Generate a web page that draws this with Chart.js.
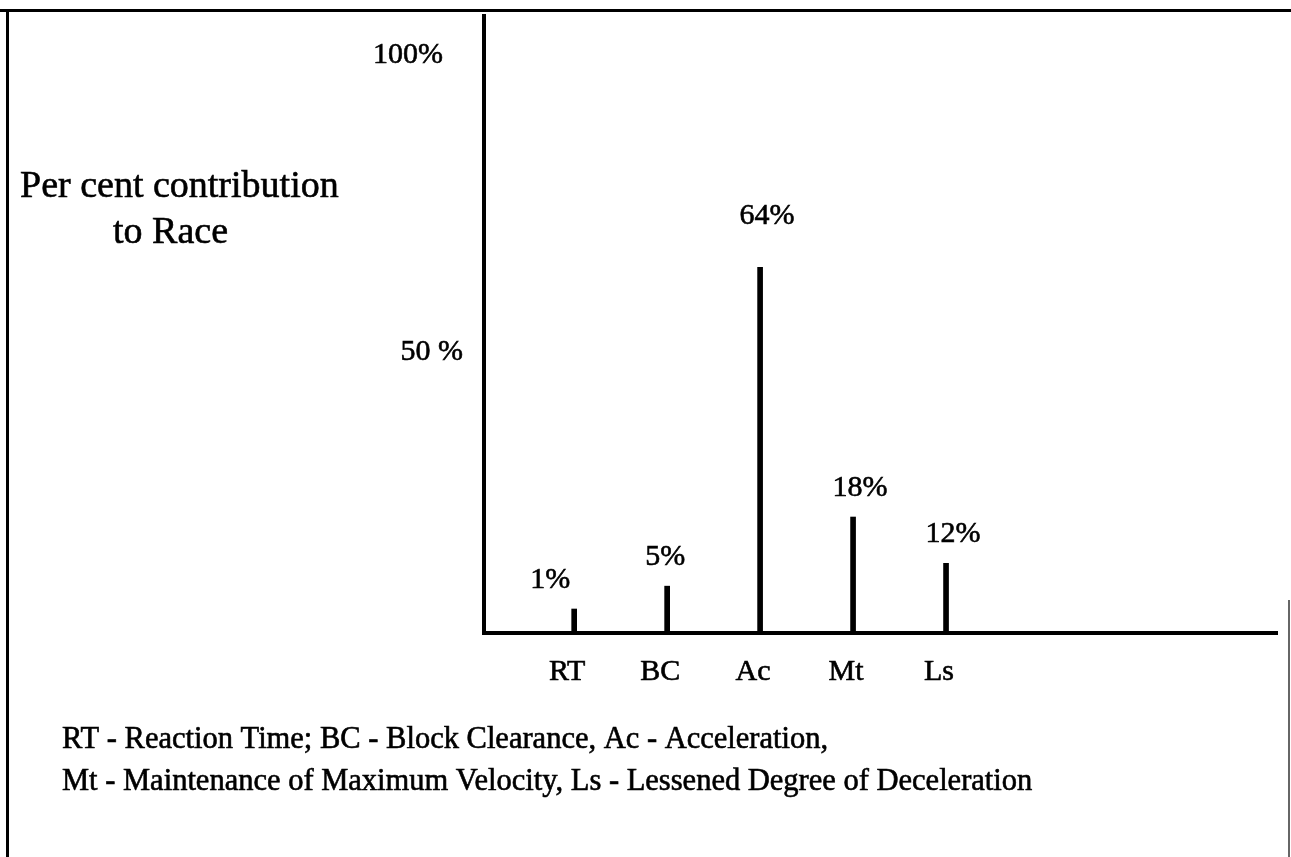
<!DOCTYPE html>
<html>
<head>
<meta charset="utf-8">
<title>Per cent contribution to Race</title>
<script src="https://cdn.jsdelivr.net/npm/chart.js@4.4.1/dist/chart.umd.min.js"></script>
<style>
  html, body { margin: 0; padding: 0; background: #fff; }
  canvas { display: block; }
</style>
</head>
<body>
<canvas id="raceChart" width="1291" height="857"></canvas>
<script>
const categories = ["RT", "BC", "Ac", "Mt", "Ls"];
// bar lengths as they are drawn
const barLengths = [4.2, 8.2, 64, 20.3, 12.2];
// figures printed above the bars
const percentLabels = ["1%", "5%", "64%", "18%", "12%"];
const yTickValues = [50, 100];
const yTickLabels = ["50 %", "100%"];
const yTitleLines = ["Per cent contribution", "to Race"];
const footnoteLines = [
  "RT - Reaction Time; BC - Block Clearance, Ac - Acceleration,",
  "Mt - Maintenance of Maximum Velocity, Ls - Lessened Degree of Deceleration",
];

const SERIF = "'Liberation Serif', 'Times New Roman', serif";
Chart.defaults.font.family = SERIF;
Chart.defaults.color = "#000";

// scanned text looks a bit heavy, so fill and lightly stroke
function inkText(ctx, text, x, y) {
  ctx.fillText(text, x, y);
  ctx.strokeText(text, x, y);
}

// everything that is plain text on the scanned page
const pageText = {
  id: "pageText",
  afterDraw(chart) {
    const ctx = chart.ctx;
    const yScale = chart.scales.y;
    const area = chart.chartArea;
    ctx.save();
    ctx.fillStyle = "#000";
    ctx.strokeStyle = "#000";
    ctx.lineWidth = 0.6;

    // frame of the page
    ctx.fillRect(0, 9, chart.width, 3);
    ctx.fillRect(6, 9, 3, chart.height - 9);
    ctx.fillStyle = "#666";
    ctx.fillRect(1288, 600, 2, chart.height - 600);
    ctx.fillStyle = "#000";

    // y tick labels
    ctx.font = "30px " + SERIF;
    ctx.textAlign = "right";
    ctx.textBaseline = "alphabetic";
    const tickNudge = [{ dx: -21, dy: 13 }, { dx: -41, dy: 1 }];
    yTickValues.forEach((v, i) => {
      const y = yScale.getPixelForValue(v);
      inkText(ctx, yTickLabels[i], area.left + tickNudge[i].dx, y + tickNudge[i].dy);
    });

    // values above bars
    ctx.textAlign = "center";
    const labelNudge = [{ dx: -24, dy: 21 }, { dx: -2, dy: 21 }, { dx: 7, dy: 43 }, { dx: 7, dy: 21 }, { dx: 7, dy: 21 }];
    chart.getDatasetMeta(0).data.forEach((bar, i) => {
      inkText(ctx, percentLabels[i], bar.x + labelNudge[i].dx, bar.y - labelNudge[i].dy);
    });

    // y title
    ctx.textAlign = "left";
    ctx.font = "38px " + SERIF;
    inkText(ctx, yTitleLines[0], 20, 197);
    inkText(ctx, yTitleLines[1], 113, 243);

    // footnote
    ctx.font = "30.5px " + SERIF;
    inkText(ctx, footnoteLines[0], 62, 748);
    inkText(ctx, footnoteLines[1], 62, 790);
    ctx.restore();
  },
};

const ctx = document.getElementById("raceChart");

new Chart(ctx, {
  type: "bar",
  data: {
    datasets: [
      {
        data: barLengths.map((v, i) => ({ x: i + 1, y: v })),
        backgroundColor: "#000",
        borderWidth: 0,
        barThickness: 5,
      },
    ],
  },
  options: {
    responsive: false,
    animation: false,
    layout: { padding: { top: 16, right: 14, left: 0, bottom: 0 } },
    plugins: {
      legend: { display: false },
      tooltip: { enabled: false },
    },
    scales: {
      x: {
        type: "linear",
        offset: false,
        min: 0.03,
        max: 8.56,
        grid: { display: false, drawTicks: false, offset: false },
        border: { display: true, color: "#000", width: 4 },
        afterBuildTicks: (scale) => {
          scale.ticks = categories.map((c, i) => ({ value: i + 1 }));
        },
        afterFit: (scale) => {
          scale.height = 224;
        },
        ticks: {
          font: { size: 30 },
          color: "#000",
          textStrokeColor: "#000",
          textStrokeWidth: 0.6,
          padding: 21,
          labelOffset: -7,
          maxRotation: 0,
          autoSkip: false,
          callback: (value) => categories[value - 1] || "",
        },
      },
      y: {
        min: 0,
        max: 108,
        grid: { display: false, drawTicks: false },
        border: { display: true, color: "#000", width: 4 },
        ticks: { display: false },
        afterFit: (scale) => {
          scale.width = 484;
        },
      },
    },
  },
  plugins: [pageText],
});
</script>
</body>
</html>
